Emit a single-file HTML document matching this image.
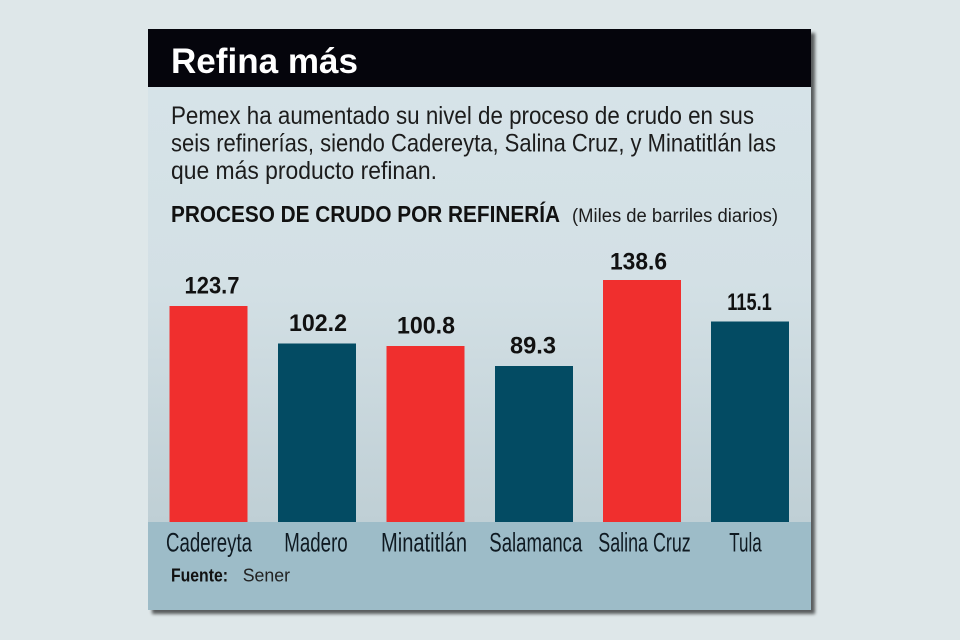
<!DOCTYPE html>
<html><head><meta charset="utf-8">
<style>
html,body{margin:0;padding:0;background:#dee7e9;}
svg{display:block;}
text{font-family:"Liberation Sans",sans-serif;}
</style></head>
<body>
<svg width="960" height="640" viewBox="0 0 960 640" xmlns="http://www.w3.org/2000/svg">
<defs>
<linearGradient id="bg" x1="0" y1="87" x2="0" y2="522" gradientUnits="userSpaceOnUse">
<stop offset="0" stop-color="#d6e3e8"/>
<stop offset="0.45" stop-color="#d3e0e5"/>
<stop offset="1" stop-color="#bfcfd5"/>
</linearGradient>
<filter id="sh" x="-5%" y="-5%" width="115%" height="115%">
<feGaussianBlur in="SourceAlpha" stdDeviation="1.6"/>
<feOffset dx="4" dy="4" result="b"/>
<feComponentTransfer><feFuncA type="linear" slope="0.6"/></feComponentTransfer>
<feMerge><feMergeNode/><feMergeNode in="SourceGraphic"/></feMerge>
</filter>
</defs>
<rect x="0" y="0" width="960" height="640" fill="#dee7e9"/>
<g filter="url(#sh)">
<rect x="148" y="29" width="663" height="581" fill="#d6e3e8"/>
</g>
<rect x="148" y="87" width="663" height="435" fill="url(#bg)"/>
<rect x="148" y="522" width="663" height="88" fill="#9dbcc8"/>
<rect x="148" y="29" width="663" height="58" fill="#05050c"/>
<text x="171" y="73" font-size="35" font-weight="bold" fill="#ffffff" textLength="187" lengthAdjust="spacingAndGlyphs">Refina más</text>

<g fill="#1c1c1c" font-size="25">
<text x="171" y="124" textLength="583" lengthAdjust="spacingAndGlyphs">Pemex ha aumentado su nivel de proceso de crudo en sus</text>
<text x="171" y="151.5" textLength="605" lengthAdjust="spacingAndGlyphs">seis refinerías, siendo Cadereyta, Salina Cruz, y Minatitlán las</text>
<text x="171" y="179" textLength="266" lengthAdjust="spacingAndGlyphs">que más producto refinan.</text>
</g>
<text x="171" y="222" font-size="23" font-weight="bold" fill="#111" textLength="389" lengthAdjust="spacingAndGlyphs">PROCESO DE CRUDO POR REFINERÍA</text>
<text x="572" y="222" font-size="19" fill="#1c1c1c" textLength="206" lengthAdjust="spacingAndGlyphs">(Miles de barriles diarios)</text>

<g>
<rect x="169.5" y="306" width="78" height="216" fill="#f02f2e"/>
<rect x="278" y="343.5" width="78" height="178.5" fill="#034b63"/>
<rect x="386.5" y="346" width="78" height="176" fill="#f02f2e"/>
<rect x="495" y="366" width="78" height="156" fill="#034b63"/>
<rect x="603" y="280" width="78" height="242" fill="#f02f2e"/>
<rect x="711" y="321.5" width="78" height="200.5" fill="#034b63"/>
</g>
<g font-size="24" font-weight="bold" fill="#111" text-anchor="middle">
<text x="212" y="293.5" textLength="55" lengthAdjust="spacingAndGlyphs">123.7</text>
<text x="318" y="331" textLength="58" lengthAdjust="spacingAndGlyphs">102.2</text>
<text x="426" y="333.5" textLength="58" lengthAdjust="spacingAndGlyphs">100.8</text>
<text x="533" y="353.5" textLength="46" lengthAdjust="spacingAndGlyphs">89.3</text>
<text x="638.5" y="269.3" textLength="57" lengthAdjust="spacingAndGlyphs">138.6</text>
<text x="749.5" y="310" textLength="44.5" lengthAdjust="spacingAndGlyphs">115.1</text>
</g>

<g font-size="27" fill="#0f1a22">
<text x="166" y="551.7" textLength="86" lengthAdjust="spacingAndGlyphs">Cadereyta</text>
<text x="284.3" y="551.7" textLength="63.4" lengthAdjust="spacingAndGlyphs">Madero</text>
<text x="381" y="551.7" textLength="86" lengthAdjust="spacingAndGlyphs">Minatitlán</text>
<text x="489.3" y="551.7" textLength="93" lengthAdjust="spacingAndGlyphs">Salamanca</text>
<text x="598.3" y="551.7" textLength="92.4" lengthAdjust="spacingAndGlyphs">Salina Cruz</text>
<text x="729.3" y="551.7" textLength="32.4" lengthAdjust="spacingAndGlyphs">Tula</text>
</g>
<text x="171" y="581.7" font-size="18" font-weight="bold" fill="#111" textLength="57" lengthAdjust="spacingAndGlyphs">Fuente:</text>
<text x="242.7" y="581.7" font-size="18" fill="#222" textLength="47.3" lengthAdjust="spacingAndGlyphs">Sener</text>
</svg>
</body></html>
